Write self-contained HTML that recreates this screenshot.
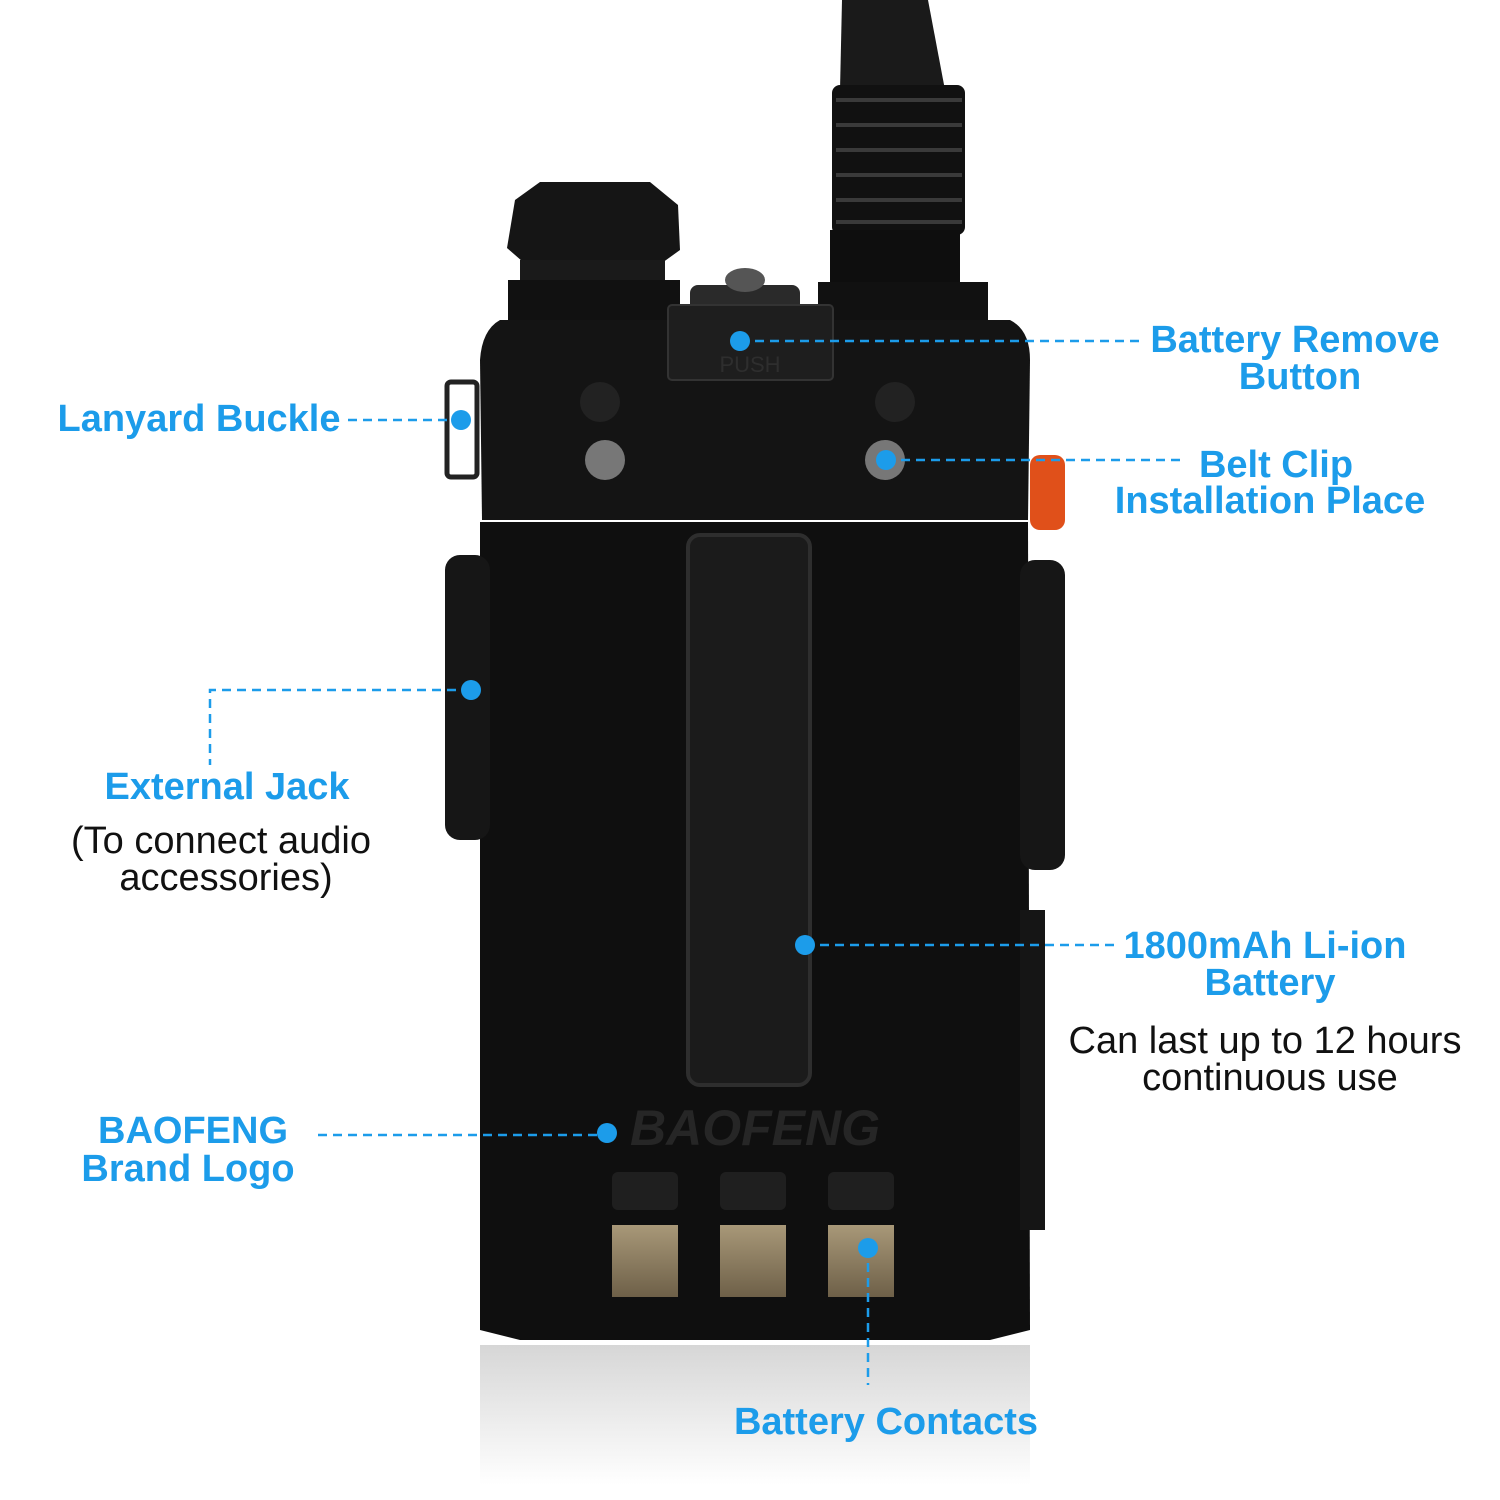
<!DOCTYPE html>
<html><head><meta charset="utf-8"><style>
html,body{margin:0;padding:0;background:#fff}
svg{display:block}
.b{font-family:"Liberation Sans",sans-serif;font-weight:bold;font-size:38px;fill:#1c9cea}
.n{font-family:"Liberation Sans",sans-serif;font-size:38px;fill:#111}
.d{stroke:#1c9cea;stroke-width:2.5;stroke-dasharray:9 6;fill:none}
</style></head><body>
<svg width="1500" height="1500" viewBox="0 0 1500 1500">
<defs>
<linearGradient id="refl" x1="0" y1="0" x2="0" y2="1">
<stop offset="0" stop-color="#bbb"/><stop offset="1" stop-color="#fff"/></linearGradient>
<linearGradient id="gold" x1="0" y1="0" x2="0" y2="1">
<stop offset="0" stop-color="#a89878"/><stop offset="1" stop-color="#6e6048"/></linearGradient>
</defs>
<rect x="480" y="1345" width="550" height="140" fill="url(#refl)" opacity="0.6"/>
<path d="M842 0 L928 0 L945 90 L840 90 Z" fill="#1a1a1a"/>
<rect x="832" y="85" width="133" height="150" rx="8" fill="#111"/>
<g stroke="#3a3a3a" stroke-width="4">
<line x1="836" y1="100" x2="962" y2="100"/><line x1="836" y1="125" x2="962" y2="125"/>
<line x1="836" y1="150" x2="962" y2="150"/><line x1="836" y1="175" x2="962" y2="175"/>
<line x1="836" y1="200" x2="962" y2="200"/><line x1="836" y1="222" x2="962" y2="222"/></g>
<rect x="830" y="230" width="130" height="80" fill="#0e0e0e"/>
<rect x="818" y="282" width="170" height="40" fill="#111"/>
<path d="M515 200 L540 182 L650 182 L678 205 L680 250 L655 268 L530 268 L507 248 Z" fill="#151515"/>
<rect x="520" y="260" width="145" height="45" fill="#1a1a1a"/>
<rect x="508" y="280" width="172" height="40" fill="#111"/>
<rect x="690" y="285" width="110" height="30" rx="8" fill="#2a2a2a"/>
<ellipse cx="745" cy="280" rx="20" ry="12" fill="#555"/>
<path d="M500 320 L1010 320 Q1030 330 1030 360 L1028 520 L482 520 L480 360 Q482 330 500 320 Z" fill="#141414"/>
<rect x="668" y="305" width="165" height="75" rx="4" fill="#1e1e1e" stroke="#333" stroke-width="2"/>
<text x="750" y="372" text-anchor="middle" font-family="Liberation Sans,sans-serif" font-size="22" fill="#2e2e2e">PUSH</text>
<circle cx="600" cy="402" r="20" fill="#222"/><circle cx="895" cy="402" r="20" fill="#222"/>
<circle cx="605" cy="460" r="20" fill="#777"/><circle cx="885" cy="460" r="20" fill="#777"/>
<rect x="447" y="382" width="30" height="95" rx="4" fill="none" stroke="#222" stroke-width="5"/>
<rect x="1030" y="455" width="35" height="75" rx="10" fill="#e0501a"/>
<path d="M480 522 L1028 522 L1030 1330 L990 1340 L520 1340 L480 1330 Z" fill="#0f0f0f"/>
<rect x="445" y="555" width="45" height="285" rx="15" fill="#161616"/>
<rect x="1020" y="560" width="45" height="310" rx="15" fill="#161616"/>
<rect x="1020" y="910" width="25" height="320" fill="#151515"/>
<rect x="688" y="535" width="122" height="550" rx="12" fill="#1b1b1b" stroke="#2e2e2e" stroke-width="4"/>
<text x="755" y="1145" text-anchor="middle" font-family="Liberation Sans,sans-serif" font-weight="bold" font-style="italic" font-size="50" fill="#262626">BAOFENG</text>
<rect x="612" y="1172" width="66" height="38" rx="6" fill="#1f1f1f"/>
<rect x="720" y="1172" width="66" height="38" rx="6" fill="#1f1f1f"/>
<rect x="828" y="1172" width="66" height="38" rx="6" fill="#1f1f1f"/>
<rect x="612" y="1225" width="66" height="72" fill="url(#gold)"/>
<rect x="720" y="1225" width="66" height="72" fill="url(#gold)"/>
<rect x="828" y="1225" width="66" height="72" fill="url(#gold)"/>
<path class="d" d="M740 341 H1140"/><circle cx="740" cy="341" r="10" fill="#1c9cea"/>
<path class="d" d="M348 420 H461"/><circle cx="461" cy="420" r="10" fill="#1c9cea"/>
<path class="d" d="M886 460 H1180"/><circle cx="886" cy="460" r="10" fill="#1c9cea"/>
<path class="d" d="M471 690 H210 V765"/><circle cx="471" cy="690" r="10" fill="#1c9cea"/>
<path class="d" d="M805 945 H1118"/><circle cx="805" cy="945" r="10" fill="#1c9cea"/>
<path class="d" d="M318 1135 H607"/><circle cx="607" cy="1133" r="10" fill="#1c9cea"/>
<path class="d" d="M868 1248 V1385"/><circle cx="868" cy="1248" r="10" fill="#1c9cea"/>
<text class="b" x="1295" y="352" text-anchor="middle">Battery Remove</text>
<text class="b" x="1300" y="389" text-anchor="middle">Button</text>
<text class="b" x="199" y="431" text-anchor="middle">Lanyard Buckle</text>
<text class="b" x="1276" y="477" text-anchor="middle">Belt Clip</text>
<text class="b" x="1270" y="513" text-anchor="middle">Installation Place</text>
<text class="b" x="227" y="799" text-anchor="middle">External Jack</text>
<text class="n" x="221" y="853" text-anchor="middle">(To connect audio</text>
<text class="n" x="226" y="890" text-anchor="middle">accessories)</text>
<text class="b" x="1265" y="958" text-anchor="middle">1800mAh Li-ion</text>
<text class="b" x="1270" y="995" text-anchor="middle">Battery</text>
<text class="n" x="1265" y="1053" text-anchor="middle">Can last up to 12 hours</text>
<text class="n" x="1270" y="1090" text-anchor="middle">continuous use</text>
<text class="b" x="193" y="1143" text-anchor="middle">BAOFENG</text>
<text class="b" x="188" y="1181" text-anchor="middle">Brand Logo</text>
<text class="b" x="886" y="1434" text-anchor="middle">Battery Contacts</text>
</svg>
</body></html>
